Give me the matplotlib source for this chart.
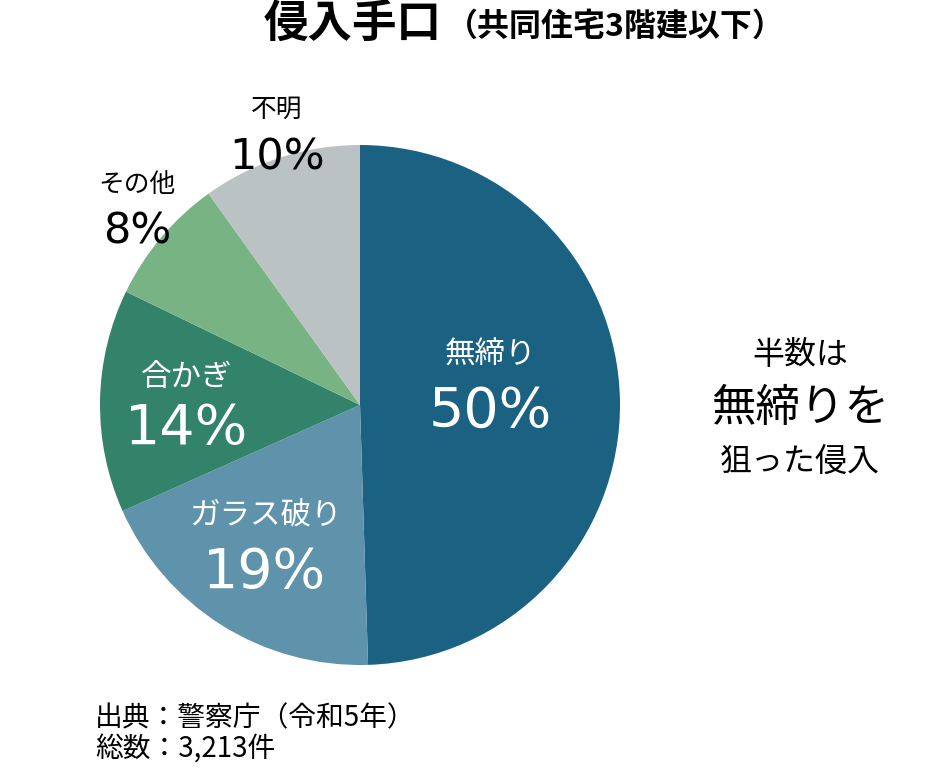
import matplotlib
matplotlib.use('Agg')
import matplotlib.pyplot as plt

plt.rcParams['font.family'] = ['Noto Sans CJK JP', 'DejaVu Sans']

# データ（警察庁 令和5年、共同住宅3階建以下）
labels = ['無締り', 'ガラス破り', '合かぎ', 'その他', '不明']
percents = [50, 19, 14, 8, 10]
colors = ['#1a6182', '#5f93ab', '#33836a', '#78b384', '#bbc2c4']

W, H = 944, 768
fig = plt.figure(figsize=(W / 100, H / 100), dpi=100)

# 円の中心 (360, 405) px, 半径 260 px
cx, cy, r = 360, 405, 260
ax = fig.add_axes([(cx - r) / W, (H - cy - r) / H, 2 * r / W, 2 * r / H])
ax.pie(percents, colors=colors, startangle=90, counterclock=False, radius=1,
       wedgeprops=dict(linewidth=0))
ax.set_xlim(-1, 1)
ax.set_ylim(-1, 1)
ax.set_aspect('equal')
ax.axis('off')


def px(x, y):
    return x / W, 1 - y / H


# ラベル位置 (px)
name_pos = [(490, 354), (265, 516), (187, 377), (137, 185), (277, 110)]
pct_pos = [(490, 412), (265, 573), (187, 429), (137, 232), (277, 157)]
inside = [True, True, True, False, False]

for lab, p, npos, ppos, ins in zip(labels, percents, name_pos, pct_pos, inside):
    c = 'white' if ins else 'black'
    fig.text(*px(*npos), lab, color=c, fontsize=22 if ins else 18.5,
             ha='center', va='center')
    fig.text(*px(*ppos), f'{p}%', color=c, fontsize=40 if ins else 31,
             ha='center', va='center', family=['DejaVu Sans'])

# タイトル
fig.text(*px(264, 24), '侵入手口', fontsize=32, fontweight='bold',
         ha='left', va='center')
fig.text(*px(446, 27), '（共同住宅3階建以下）', fontsize=23, fontweight='bold',
         ha='left', va='center')

# 右側の注釈
fig.text(*px(800, 355), '半数は', fontsize=23, ha='center', va='center')
fig.text(*px(800, 408), '無締りを', fontsize=32, ha='center', va='center')
fig.text(*px(800, 462), '狙った侵入', fontsize=23, ha='center', va='center')

# 出典
fig.text(*px(95, 718), '出典：警察庁（令和5年）', fontsize=20, ha='left', va='center')
fig.text(*px(95, 750), '総数：3,213件', fontsize=20, ha='left', va='center')

fig.savefig('out.png', dpi=100, facecolor='white')
